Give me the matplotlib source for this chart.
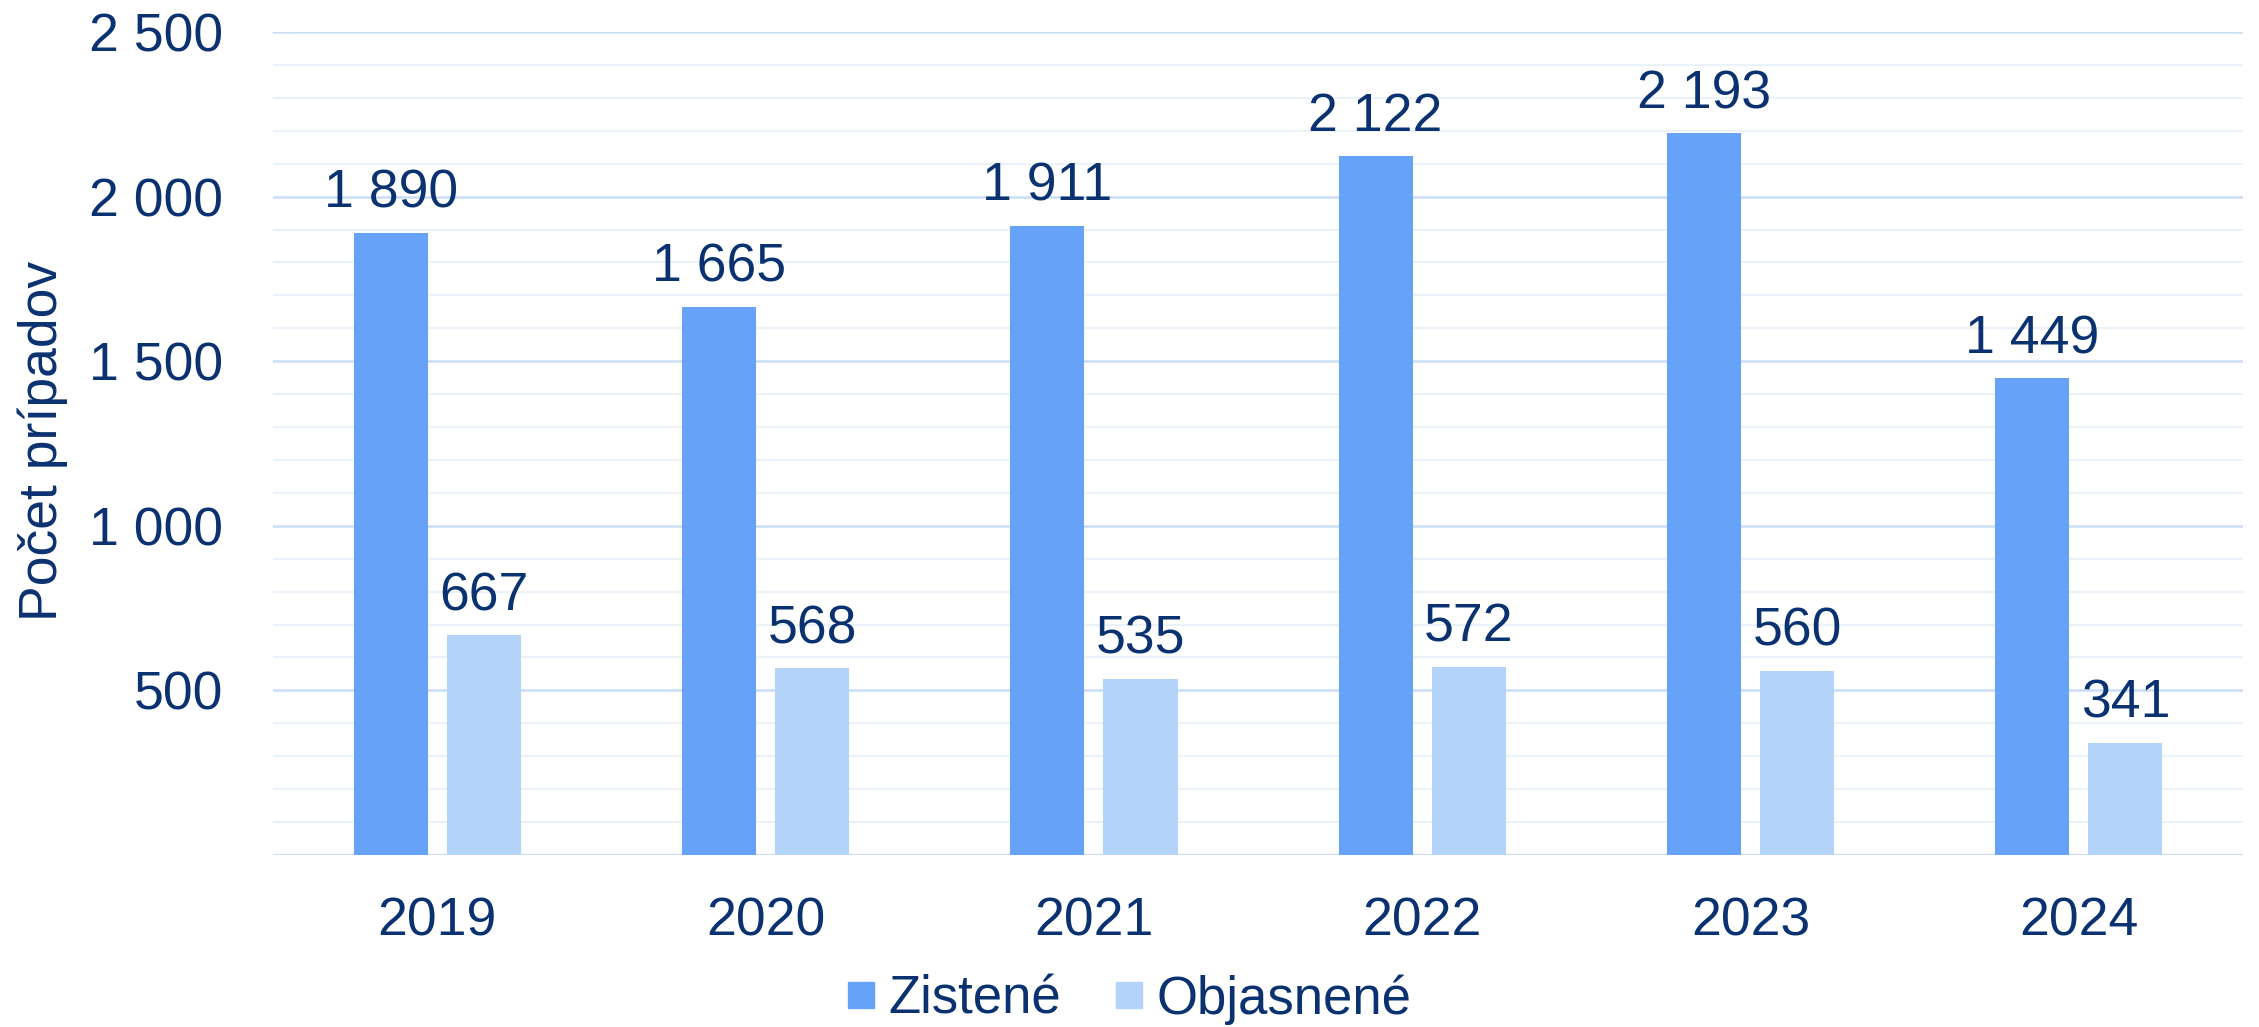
import numpy as np
import matplotlib.pyplot as plt
from matplotlib.lines import Line2D

plt.rcParams['font.family'] = ['Liberation Sans', 'DejaVu Sans']

years = ["2019", "2020", "2021", "2022", "2023", "2024"]
zistene = [1890, 1665, 1911, 2122, 2193, 1449]
objasnene = [667, 568, 535, 572, 560, 341]
series_names = ["Zistené", "Objasnené"]
yticks = [500, 1000, 1500, 2000, 2500]

dark = '#66A3F8'
light = '#B3D3F8'
navy = '#0B3270'
grid_major = '#C9DDF5'
grid_minor = '#EAF3FC'

def fmt(v):
    return f"{v:,}".replace(",", " ")

fig = plt.figure(figsize=(22.59, 10.27), dpi=100)
ax = fig.add_axes([0.1209, 0.1675, 0.872, 0.8013])

x = np.arange(len(years))
off = 0.1418
w = 0.226

# light minor lines every 100, stronger ones every 500
for m in range(100, 2501, 100):
    if m % 500:
        ax.axhline(m, color=grid_minor, lw=1.5, zorder=0)
    else:
        ax.axhline(m, color=grid_major, lw=1.8, zorder=0)
ax.axhline(0, color=grid_major, lw=2.2, zorder=1)

b1 = ax.bar(x - off, zistene, w, color=dark, zorder=2)
b2 = ax.bar(x + off, objasnene, w, color=light, zorder=2)

for bars, vals in [(b1, zistene), (b2, objasnene)]:
    for r, v in zip(bars, vals):
        ax.annotate(fmt(v), (r.get_x() + r.get_width() / 2, v),
                    xytext=(0, 18), textcoords='offset points',
                    ha='center', va='baseline', fontsize=38.5, color=navy)

ax.set_xlim(-0.5, len(years) - 0.5)
ax.set_ylim(0, 2500)
ax.set_xticks(x)
ax.set_xticklabels(years)
ax.set_yticks(yticks)
ax.set_yticklabels([fmt(v) for v in yticks])
ax.tick_params(axis='both', length=0, labelsize=38.5, colors=navy)
ax.tick_params(axis='y', pad=36)
ax.tick_params(axis='x', pad=30)
for s in ax.spines.values():
    s.set_visible(False)

fig.text(0.019, 0.5706, "Počet prípadov", rotation=90, ha='center', va='center',
         fontsize=38.5, color=navy)

handles = [Line2D([], [], marker='s', ls='none', markersize=19.4, color=c)
           for c in (dark, light)]
fig.legend(handles, series_names, loc='center', bbox_to_anchor=(0.4996, 0.027),
           ncol=2, frameon=False, fontsize=38, labelcolor=navy,
           handlelength=0.6, handletextpad=0.22, columnspacing=0.98,
           borderaxespad=0, borderpad=0)

fig.savefig("out.png", dpi=100)
